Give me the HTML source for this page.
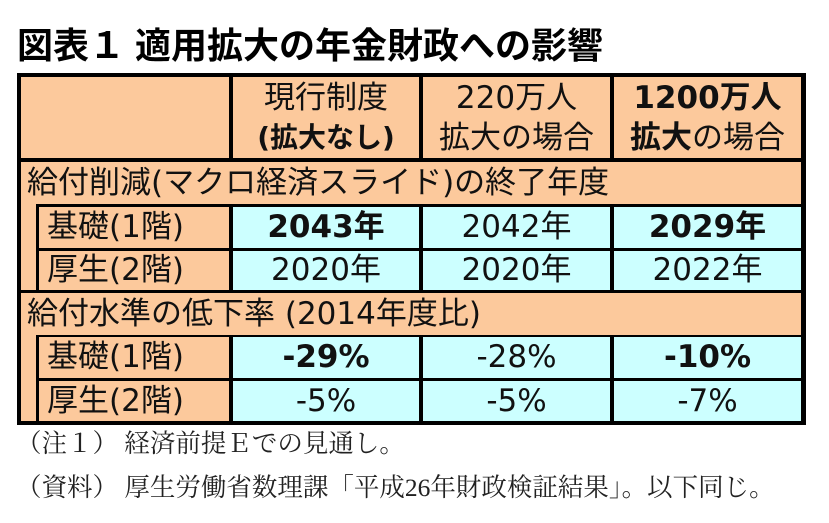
<!DOCTYPE html>
<html><head><meta charset="utf-8"><style>
body{margin:0;width:829px;height:523px;background:#fff;position:relative;overflow:hidden;font-family:"DejaVu Sans","Noto Sans CJK JP",sans-serif;}
.a{position:absolute;box-sizing:border-box;}
.o{background:#FCC99C;}
.c{background:#CCFFFF;}
.cell{display:flex;align-items:center;justify-content:center;font-size:31px;color:#111;line-height:1;white-space:nowrap;}
.lab{justify-content:flex-start;padding-left:8px;}
.b{font-weight:bold;}
.h{flex-direction:column;line-height:40px;}
.note{font-family:"Liberation Serif","Noto Serif CJK JP",serif;font-size:25.5px;color:#222;white-space:nowrap;}
</style></head><body>
<div class="a b" style="left:17px;top:17px;font-size:36px;white-space:nowrap;font-family:'Liberation Sans','Noto Sans CJK JP',sans-serif;">図表１ 適用拡大の年金財政への影響</div>
<div class="a" style="left:17px;top:73px;width:789px;height:352px;background:#000;"></div>
<div class="a o" style="left:21px;top:77px;width:208px;height:81px;"></div>
<div class="a o cell h" style="left:233px;top:77px;width:186px;height:81px;"><span>現行制度</span><span class="b" style="font-size:28px">(拡大なし)</span></div>
<div class="a o cell h" style="left:423px;top:77px;width:187px;height:81px;"><span>220万人</span><span>拡大の場合</span></div>
<div class="a o cell h" style="left:614px;top:77px;width:187px;height:81px;"><span class="b">1200万人</span><span><b>拡大</b>の場合</span></div>
<div class="a o" style="left:21px;top:162px;width:15px;height:128px;"></div>
<div class="a o cell lab" style="left:21px;top:162px;width:780px;height:42px;padding-left:6px;">給付削減(マクロ経済スライド)の終了年度</div>
<div class="a o cell lab" style="left:39px;top:207px;width:190px;height:41px;">基礎(1階)</div>
<div class="a c cell b" style="left:233px;top:207px;width:186px;height:41px;">2043年</div>
<div class="a c cell" style="left:423px;top:207px;width:187px;height:41px;">2042年</div>
<div class="a c cell b" style="left:614px;top:207px;width:187px;height:41px;">2029年</div>
<div class="a o cell lab" style="left:39px;top:251px;width:190px;height:39px;">厚生(2階)</div>
<div class="a c cell" style="left:233px;top:251px;width:186px;height:39px;">2020年</div>
<div class="a c cell" style="left:423px;top:251px;width:187px;height:39px;">2020年</div>
<div class="a c cell" style="left:614px;top:251px;width:187px;height:39px;">2022年</div>
<div class="a o" style="left:21px;top:293px;width:15px;height:128px;"></div>
<div class="a o cell lab" style="left:21px;top:293px;width:780px;height:42px;padding-left:6px;">給付水準の低下率 (2014年度比)</div>
<div class="a o cell lab" style="left:39px;top:337px;width:190px;height:41px;">基礎(1階)</div>
<div class="a c cell b" style="left:233px;top:337px;width:186px;height:41px;">-29%</div>
<div class="a c cell" style="left:423px;top:337px;width:187px;height:41px;">-28%</div>
<div class="a c cell b" style="left:614px;top:337px;width:187px;height:41px;">-10%</div>
<div class="a o cell lab" style="left:39px;top:381px;width:190px;height:40px;">厚生(2階)</div>
<div class="a c cell" style="left:233px;top:381px;width:186px;height:40px;">-5%</div>
<div class="a c cell" style="left:423px;top:381px;width:187px;height:40px;">-5%</div>
<div class="a c cell" style="left:614px;top:381px;width:187px;height:40px;">-7%</div>
<div class="a note" style="left:16px;top:424px;">（注１） 経済前提Ｅでの見通し。</div>
<div class="a note" style="left:16px;top:468px;">（資料） 厚生労働省数理課「平成26年財政検証結果」。以下同じ。</div>
</body></html>
